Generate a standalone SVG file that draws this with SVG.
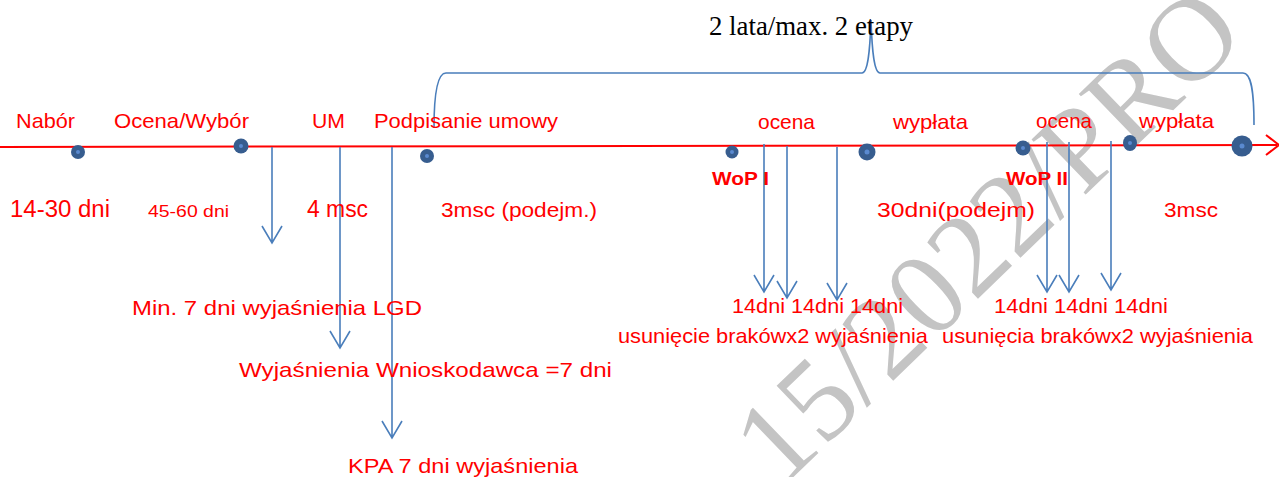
<svg xmlns="http://www.w3.org/2000/svg" width="1279" height="477" viewBox="0 0 1279 477">
<style>
.t{font-family:"Liberation Sans",Arial,sans-serif;fill:#ff0000;font-size:21px}
.b{font-weight:bold;font-size:19px}
.wm{font-family:"Liberation Serif","Times New Roman",serif;fill:#c4c4c4;font-size:118px}
.ttl{font-family:"Liberation Serif","Times New Roman",serif;fill:#000;font-size:26.5px}
.arr{stroke:#4a7ebb;stroke-width:1.6;fill:none}
.dot{fill:#375d8f}
.dc{fill:#5a8ad0}
</style>
<rect width="1279" height="477" fill="#fff"/>
<g id="watermark"><text class="wm" transform="translate(781,489) rotate(-44)">15/2022/PRO</text></g>
<g id="connectors">
<path d="M0,147 L1277,145" stroke="#ff0000" stroke-width="2" fill="none"/>
<path d="M1266,135 L1279,145 L1266,155" stroke="#ff0000" stroke-width="2" fill="none"/>
<path class="arr" d="M434,128 C434,95 437,73 446,73 L862,73 C868,73 870,50 871,20 C872,50 874,73 880,73 L1243,73 C1250,73 1254,85 1254,125"/>
<path class="arr" d="M272,147 V243 M262,226 L272,243 L282,226"/>
<path class="arr" d="M340,147 V348 M330,331 L340,348 L350,331"/>
<path class="arr" d="M392,147 V438 M382,421 L392,438 L402,421"/>
<path class="arr" d="M764,144 V292 M754,275 L764,292 L774,275"/>
<path class="arr" d="M787,146 V298 M777,281 L787,298 L797,281"/>
<path class="arr" d="M837,147 V300 M827,283 L837,300 L847,283"/>
<path class="arr" d="M1047,142 V292 M1037,275 L1047,292 L1057,275"/>
<path class="arr" d="M1069,142 V292 M1059,275 L1069,292 L1079,275"/>
<path class="arr" d="M1111,141 V290 M1101,273 L1111,290 L1121,273"/>
</g>
<g id="dots">
<g id="d1"><circle class="dot" cx="78" cy="152" r="7"/><circle class="dc" cx="78" cy="152" r="2"/></g>
<g id="d2"><circle class="dot" cx="241" cy="146" r="7.5"/><circle class="dc" cx="241" cy="146" r="2"/></g>
<g id="d3"><circle class="dot" cx="427" cy="156" r="7"/><circle class="dc" cx="427" cy="156" r="2"/></g>
<g id="d4"><circle class="dot" cx="732" cy="152" r="6.5"/><circle class="dc" cx="732" cy="152" r="2"/></g>
<g id="d5"><circle class="dot" cx="867" cy="152" r="8.5"/><circle class="dc" cx="867" cy="152" r="2.5"/></g>
<g id="d6"><circle class="dot" cx="1023" cy="148" r="7.5"/><circle class="dc" cx="1023" cy="148" r="2"/></g>
<g id="d7"><ellipse class="dot" cx="1130" cy="143" rx="7" ry="8"/><circle class="dc" cx="1130" cy="143" r="2"/></g>
<g id="d8"><circle class="dot" cx="1242" cy="146" r="10.5"/><circle class="dc" cx="1242" cy="146" r="2.5"/></g>
</g>
<g id="title"><text class="ttl" x="709" y="35" textLength="204" lengthAdjust="spacingAndGlyphs">2 lata/max. 2 etapy</text></g>
<g id="top-labels">
<text class="t" x="16" y="128" textLength="59" lengthAdjust="spacingAndGlyphs">Nabór</text>
<text class="t" x="114" y="128" textLength="135" lengthAdjust="spacingAndGlyphs">Ocena/Wybór</text>
<text class="t" x="312" y="128" textLength="33" lengthAdjust="spacingAndGlyphs">UM</text>
<text class="t" x="374" y="128" textLength="184" lengthAdjust="spacingAndGlyphs">Podpisanie umowy</text>
<text class="t" x="758" y="129" textLength="57" lengthAdjust="spacingAndGlyphs">ocena</text>
<text class="t" x="893" y="129" textLength="75" lengthAdjust="spacingAndGlyphs">wypłata</text>
<text class="t" x="1036" y="128" textLength="56" lengthAdjust="spacingAndGlyphs">ocena</text>
<text class="t" x="1139" y="128" textLength="75" lengthAdjust="spacingAndGlyphs">wypłata</text>
</g>
<g id="wop">
<text class="t b" x="712" y="185" textLength="57" lengthAdjust="spacingAndGlyphs">WoP I</text>
<text class="t b" x="1006" y="185" textLength="62" lengthAdjust="spacingAndGlyphs">WoP II</text>
</g>
<g id="durations">
<text class="t" x="10" y="217" textLength="100" lengthAdjust="spacingAndGlyphs" style="font-size:23px">14-30 dni</text>
<text class="t" x="148" y="217" textLength="81" lengthAdjust="spacingAndGlyphs" style="font-size:17px">45-60 dni</text>
<text class="t" x="307" y="217" textLength="61" lengthAdjust="spacingAndGlyphs" style="font-size:23px">4 msc</text>
<text class="t" x="441" y="217" textLength="156" lengthAdjust="spacingAndGlyphs">3msc (podejm.)</text>
<text class="t" x="877" y="217" textLength="158" lengthAdjust="spacingAndGlyphs">30dni(podejm)</text>
<text class="t" x="1164" y="217" textLength="54" lengthAdjust="spacingAndGlyphs">3msc</text>
</g>
<g id="notes">
<text class="t" x="132" y="315" textLength="290" lengthAdjust="spacingAndGlyphs">Min. 7 dni wyjaśnienia LGD</text>
<text class="t" x="239" y="377" textLength="373" lengthAdjust="spacingAndGlyphs">Wyjaśnienia Wnioskodawca =7 dni</text>
<text class="t" x="348" y="473" textLength="230" lengthAdjust="spacingAndGlyphs">KPA 7 dni wyjaśnienia</text>
<text class="t" x="732" y="313" textLength="171" lengthAdjust="spacingAndGlyphs">14dni 14dni 14dni</text>
<text class="t" x="618" y="343" textLength="310" lengthAdjust="spacingAndGlyphs">usunięcie brakówx2 wyjaśnienia</text>
<text class="t" x="994" y="313" textLength="174" lengthAdjust="spacingAndGlyphs">14dni 14dni 14dni</text>
<text class="t" x="942" y="343" textLength="311" lengthAdjust="spacingAndGlyphs">usunięcia brakówx2 wyjaśnienia</text>
</g>
</svg>
